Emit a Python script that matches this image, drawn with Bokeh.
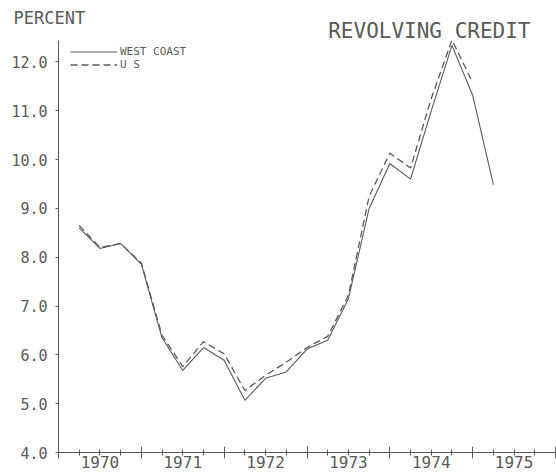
from bokeh.plotting import figure
from bokeh.models import (Range1d, FixedTicker, LinearAxis, Title, Legend, LegendItem,
                          PrintfTickFormatter)
from bokeh.embed import file_html
from bokeh.resources import INLINE

# ---- data (quarterly, %)
quarters_wc = [1970.25, 1970.50, 1970.75, 1971.00, 1971.25, 1971.50, 1971.75,
               1972.00, 1972.25, 1972.50, 1972.75, 1973.00, 1973.25, 1973.50,
               1973.75, 1974.00, 1974.25, 1974.50, 1974.75, 1975.00, 1975.25]
west_coast = [8.60, 8.18, 8.28, 7.86, 6.35, 5.68, 6.15,
              5.89, 5.07, 5.52, 5.65, 6.12, 6.30, 7.15,
              9.00, 9.92, 9.60, 11.00, 12.34, 11.32, 9.49]
quarters_us = [1970.25, 1970.50, 1970.75, 1971.00, 1971.25, 1971.50, 1971.75,
               1972.00, 1972.25, 1972.50, 1972.75, 1973.00, 1973.25, 1973.50,
               1973.75, 1974.00, 1974.25, 1974.50, 1974.75, 1975.00]
us = [8.65, 8.20, 8.28, 7.88, 6.40, 5.76, 6.27,
      6.02, 5.27, 5.58, 5.85, 6.15, 6.38, 7.22,
      9.25, 10.13, 9.83, 11.25, 12.45, 11.58]

year_labels = ["1970", "1971", "1972", "1973", "1974", "1975"]
year_label_pos = [1970.5, 1971.5, 1972.5, 1973.5, 1974.5, 1975.5]
year_ticks = [1970, 1971, 1972, 1973, 1974, 1975, 1976]
quarter_minor = [1970.25, 1970.5, 1970.75, 1971.25, 1971.5, 1971.75,
                 1972.25, 1972.5, 1972.75, 1973.25, 1973.5, 1973.75,
                 1974.25, 1974.5, 1974.75, 1975.25, 1975.5, 1975.75]
y_ticks = [4, 5, 6, 7, 8, 9, 10, 11, 12]

INK = "#5a5a5a"
FONT = "DejaVu Sans Mono"

p = figure(width=556, height=476, output_backend="svg", toolbar_location=None,
           title=None,
           x_range=Range1d(1970.0, 1976.0), y_range=Range1d(4.0, 12.44),
           min_border_left=58, min_border_right=1, min_border_top=40,
           min_border_bottom=24, outline_line_color=None)
p.grid.visible = False
p.background_fill_color = "white"
p.border_fill_color = "white"

l_wc = p.line(quarters_wc, west_coast, line_color=INK, line_width=1.1)
l_us = p.line(quarters_us, us, line_color=INK, line_width=1.3, line_dash="7 4")

# x axis (nearest the frame): long year ticks, short quarter ticks, no labels
xa = p.xaxis[0]
xa.ticker = FixedTicker(ticks=year_ticks, minor_ticks=quarter_minor)
xa.major_label_overrides = {t: "" for t in year_ticks}
xa.major_tick_in = 6
xa.major_tick_out = 6
xa.minor_tick_in = 3
xa.minor_tick_out = 3
xa.major_label_standoff = 0
xa.major_label_text_font_size = "1px"
xa.axis_line_color = INK
xa.major_tick_line_color = INK
xa.minor_tick_line_color = INK

# second x axis: year labels centred on each year
xl = LinearAxis(ticker=FixedTicker(ticks=year_label_pos, minor_ticks=[]),
                major_label_overrides={pos: lab for pos, lab in zip(year_label_pos, year_labels)},
                axis_line_color=None, major_tick_line_color=None, minor_tick_line_color=None,
                major_tick_in=0, major_tick_out=0, major_label_standoff=-3,
                major_label_text_font=FONT, major_label_text_font_size="16px",
                major_label_text_color=INK)
p.add_layout(xl, "below")

# y axis
ya = p.yaxis[0]
ya.ticker = FixedTicker(ticks=y_ticks, minor_ticks=[])
ya.formatter = PrintfTickFormatter(format="%.1f")
ya.major_tick_in = 0
ya.major_tick_out = 3
ya.major_label_standoff = 8
ya.major_label_text_font = FONT
ya.major_label_text_font_size = "15px"
ya.major_label_text_color = INK
ya.axis_line_color = INK
ya.major_tick_line_color = INK

# titles (nearest first)
p.add_layout(Title(text="REVOLVING CREDIT", align="right", offset=25, standoff=-4,
                   text_font=FONT, text_font_size="21px", text_font_style="normal",
                   text_color=INK), "above")
p.add_layout(Title(text="PERCENT", align="left", offset=-45, standoff=-18,
                   text_font=FONT, text_font_size="17px", text_font_style="normal",
                   text_color=INK), "above")

legend = Legend(items=[LegendItem(label="WEST COAST", renderers=[l_wc]),
                       LegendItem(label="U S", renderers=[l_us])],
                location=(12, 381), orientation="vertical",
                glyph_width=47, glyph_height=11, label_height=11, spacing=0,
                padding=0, margin=0, label_standoff=3,
                label_text_font=FONT, label_text_font_size="11px",
                label_text_color=INK, label_text_baseline="alphabetic",
                border_line_color=None, background_fill_alpha=0)
p.add_layout(legend)

open("out.html", "w").write(file_html(p, INLINE))
